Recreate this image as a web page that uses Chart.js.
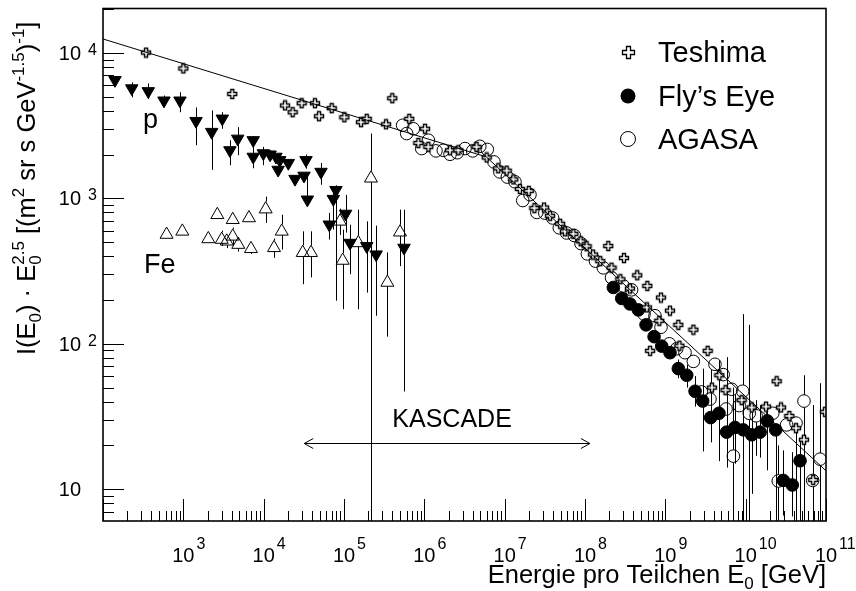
<!DOCTYPE html>
<html>
<head>
<meta charset="utf-8">
<script src="https://cdn.jsdelivr.net/npm/chart.js@4.4.1/dist/chart.umd.min.js"></script>
<style>
html,body{margin:0;padding:0;background:#ffffff;}
#box{width:856px;height:591px;}
canvas{display:block;}
</style>
</head>
<body>
<div id="box"><canvas id="chart" width="856" height="591"></canvas></div>
<script>
// ---------------- data ----------------
const teshimaE = [343,1000,4070,18450,22960,29720,43550,48870,70310,1.009e5,1.629e5,1.919e5,3.334e5,3.990e5,6.50e5,8.43e5,1.021e6,1.122e6,2.089e6,2.649e6,4.467e6,5.97e6,8.32e6,1.059e7,1.282e7,1.549e7,1.995e7,2.344e7,3.09e7,3.673e7,4.898e7,5.623e7,7.16e7,8.83e7,1.047e8,1.259e8,1.549e8,1.95e8,2.138e8,2.754e8,3.055e8,3.63e8,4.467e8,5.89e8,5.97e8,6.457e8,8.41e8,8.83e8,1.143e9,1.452e9,1.496e9,2.234e9,3.365e9,3.80e9,4.70e9,5.62e9,8.91e9,1.189e10,1.79e10,2.432e10,2.754e10,3.50e10,4.236e10,5.32e10,6.92e10,9.73e10];
const teshimaI = [10050,7820,5220,4350,3910,4510,4510,3670,4170,3610,3340,3520,3230,4880,3520,2400,3010,2260,2140,2140,2260,1910,1610,1550,1350,1160,1125,857,865,759,669,593,570,507,469,411,370,470,334,278,389,240,296,178,250,89.5,144,208,169,135,97,125,89.5,50,60.8,48,41,36.5,37,55.3,36.5,31.9,26.3,21.9,11.6,34.1];

const flysEyeE = [2.254e8,2.864e8,3.63e8,4.613e8,5.754e8,7.244e8,9.02e8,1.143e9,1.452e9,1.845e9,2.344e9,2.917e9,3.664e9,4.656e9,5.794e9,7.362e9,9.33e9,1.189e10,1.514e10,1.862e10,2.366e10,2.944e10,3.80e10,4.753e10];
const flysEyeI = [244,205,188,171,135,112,96.4,86.9,67.5,60.8,47.2,40.4,31.1,33.3,24.7,26.6,25.6,23.7,24.7,29.5,25.6,11.5,10.7,15.7];
const flysEyeHi = [null,null,null,null,null,null,null,null,78,72,60,67.5,66.4,77,81,45,40,35.6,37.9,35.6,27,18.5,18,22];
const flysEyeLo = [null,null,null,null,null,null,null,null,58,50,37,18.2,21,15.6,14.1,15,15,9.3,16.5,13.5,1,6.6,6.5,1];

const agasaE = [5.37e5,6.03e5,7.29e5,9.27e5,1.122e6,1.396e6,1.722e6,2.089e6,2.57e6,3.206e6,4.0e6,4.9e6,6.08e6,7.36e6,8.71e6,1.079e7,1.343e7,1.679e7,2.065e7,2.512e7,3.162e7,3.954e7,4.786e7,5.916e7,7.36e7,8.91e7,1.07e8,1.35e8,1.69e8,2.138e8,3.006e8,3.80e8,5.43e8,7.43e8,8.83e8,1.122e9,1.387e9,1.758e9,2.234e9,2.818e9,3.597e9,4.15e9,5.25e9,5.70e9,6.70e9,7.03e9,8.32e9,9.18e9,1.109e10,1.349e10,2.173e10,2.547e10,3.236e10,4.236e10,5.32e10,6.82e10,8.43e10];
const agasaI = [3180,2790,3010,2200,2510,2120,2140,2010,2060,2200,2120,2280,2170,1780,1520,1400,1300,966,1060,800,792,733,627,578,555,489,415,370,333,285,250,235,160,156,130,100,92.5,86.9,75.7,46.7,41.7,72.3,61.4,35.6,48.7,16.9,37.6,47.2,33.3,32,33.3,11.4,27.7,28.5,40.4,11.5,16.1];
const agasaHi = [null,null,null,null,null,null,null,null,null,null,null,null,null,null,null,null,null,null,null,null,null,null,null,null,null,null,null,null,null,null,null,null,null,null,null,null,null,null,null,null,null,null,null,null,null,50,null,160,135,41,null,20,null,31,60.8,37.9,53.6];
const agasaLo = [null,null,null,null,null,null,null,null,null,null,null,null,null,null,null,null,null,null,null,null,null,null,null,null,null,null,null,null,null,null,null,null,null,null,null,null,null,null,null,null,null,null,null,null,null,1,null,1,1,17,null,1,null,1,1,1,1];

const protonE = [141,228,366,574,908,1439,2254,3055,3802,4753,7413,7413,9908,12020,14220,15850,15140,20280,24550,31770,33650,34990,51760,79430,73620,104700,65610,118900,191900,251200,558500];
const protonI = [6500,5700,5450,4700,4700,3400,2860,3530,2140,2570,2510,1930,2040,2000,1930,1830,1570,1750,1360,1430,1830,980,1520,1140,990,783,660,494,469,411,457];
const protonHi = [null,6270,6170,5090,5360,4220,4020,3910,2510,3090,2670,2320,2260,2150,null,null,null,null,null,null,2000,1410,1750,1230,1143,1057,794,659,695,649,836];
const protonLo = [null,4950,4830,4240,3910,2320,1570,3010,1690,1980,2280,1610,1690,1850,null,null,null,null,null,null,1600,879,1240,198,610,582,521,301,225,156,47];

const ironE = [619,971,2046,2649,3006,3467,4121,4121,4831,6561,6950,10590,13460,16790,30620,38820,89130,96380,150700,216800,346700,497700];
const ironI = [564,593,526,771,521,507,713,548,481,733,450,843,457,593,423,423,695,374,494,1374,264,585];
const ironHi = [null,null,null,null,600,570,null,630,530,780,480,1028,530,771,593,593,850,610,836,2790,425,836];
const ironLo = [null,null,null,null,470,455,null,470,430,690,415,678,390,445,257,286,560,173,173,1,112,342];

const fitE = [1e2, 5.9e6, 1e11];
const fitI = [12470, 1928, 13.4];

const kascadeE = [3.2e4, 1.15e8];
const kascadeI = 20.7;

const xTickExponents = [3,4,5,6,7,8,9,10,11];
const yTickExponents = [1,2,3,4];
const legendLabels = ['Teshima', 'Fly\u2019s Eye', 'AGASA'];

// ---------------- drawing helpers ----------------
const FONT = '"Liberation Sans", Arial, Helvetica, sans-serif';
const pts = (xs, ys) => xs.map((x, i) => ({ x: x, y: ys[i] }));

function plusPath(ctx, cx, cy, L, a) {
  ctx.beginPath();
  ctx.moveTo(cx - a, cy - L); ctx.lineTo(cx + a, cy - L); ctx.lineTo(cx + a, cy - a);
  ctx.lineTo(cx + L, cy - a); ctx.lineTo(cx + L, cy + a); ctx.lineTo(cx + a, cy + a);
  ctx.lineTo(cx + a, cy + L); ctx.lineTo(cx - a, cy + L); ctx.lineTo(cx - a, cy + a);
  ctx.lineTo(cx - L, cy + a); ctx.lineTo(cx - L, cy - a); ctx.lineTo(cx - a, cy - a);
  ctx.closePath();
}
function makePlus(L, a) {
  const c = document.createElement('canvas');
  c.width = 12; c.height = 12;
  const g = c.getContext('2d');
  plusPath(g, 6, 6, L, a);
  g.fillStyle = '#fff'; g.fill();
  g.strokeStyle = '#000'; g.lineWidth = 1.4; g.stroke();
  return c;
}
const plusMarker = makePlus(4.5, 1.5);

function drawRuns(ctx, runs, x, y, align) {
  const ws = runs.map(r => { ctx.font = r.s + 'px ' + FONT; return ctx.measureText(r.t).width; });
  let total = 0, ps = 0, pw = 0;
  runs.forEach((r, i) => {
    if (r.stack) { total = ps + Math.max(pw, ws[i]); }
    else { ps = total; pw = ws[i]; total += ws[i]; }
  });
  let cx = align === 'right' ? x - total : (align === 'center' ? x - total / 2 : x);
  let start = cx, prevW = 0;
  ctx.textAlign = 'left'; ctx.textBaseline = 'alphabetic';
  runs.forEach((r, i) => {
    ctx.font = r.s + 'px ' + FONT;
    if (r.stack) { ctx.fillText(r.t, start, y + (r.dy || 0)); cx = start + Math.max(prevW, ws[i]); }
    else { start = cx; prevW = ws[i]; ctx.fillText(r.t, cx, y + (r.dy || 0)); cx += ws[i]; }
  });
}

// error bars drawn through the chart's own scales
const errorBarPlugin = {
  id: 'errorBars',
  beforeDatasetsDraw(chart) {
    const ctx = chart.ctx, ca = chart.chartArea;
    const xs = chart.scales.x, ys = chart.scales.y;
    ctx.save();
    ctx.beginPath(); ctx.rect(ca.left, ca.top, ca.right - ca.left, ca.bottom - ca.top); ctx.clip();
    ctx.strokeStyle = '#000'; ctx.lineWidth = 1;
    chart.data.datasets.forEach(ds => {
      if (!ds.errHi) return;
      ds.data.forEach((p, i) => {
        const hi = ds.errHi[i], lo = ds.errLo[i];
        if (hi == null) return;
        const px = Math.round(xs.getPixelForValue(p.x)) + 0.5;
        const yc = ys.getPixelForValue(p.y);
        const yh = ys.getPixelForValue(hi);
        const yl = Math.min(ys.getPixelForValue(lo), ca.bottom + 2);
        const gt = ds.gapTop || 0, gb = ds.gapBottom || 0;
        ctx.beginPath();
        if (yh < yc - gt) { ctx.moveTo(px, yh); ctx.lineTo(px, yc - gt); }
        if (yl > yc + gb) { ctx.moveTo(px, yc + gb); ctx.lineTo(px, yl); }
        ctx.stroke();
      });
    });
    ctx.restore();
  }
};

const decorPlugin = {
  id: 'decor',
  afterDraw(chart) {
    const ctx = chart.ctx, ca = chart.chartArea;
    const xs = chart.scales.x, ys = chart.scales.y;
    ctx.save();
    ctx.strokeStyle = '#000'; ctx.fillStyle = '#000';

    // ticks (inward)
    ctx.lineWidth = 1;
    ctx.beginPath();
    for (let e = 2; e <= 11; e++) {
      for (let m = 1; m <= 9; m++) {
        const v = m * Math.pow(10, e);
        if (v < xs.min * 0.999 || v > xs.max * 1.001) continue;
        const px = Math.round(xs.getPixelForValue(v)) + 0.5;
        const len = m === 1 ? 22 : 10;
        ctx.moveTo(px, ca.bottom); ctx.lineTo(px, ca.bottom - len);
      }
    }
    for (let e = 0; e <= 4; e++) {
      for (let m = 1; m <= 9; m++) {
        const v = m * Math.pow(10, e);
        if (v < ys.min * 0.999 || v > ys.max * 1.001) continue;
        const py = Math.round(ys.getPixelForValue(v)) + 0.5;
        const len = m === 1 ? 21 : 11;
        ctx.moveTo(ca.left, py); ctx.lineTo(ca.left + len, py);
      }
    }
    ctx.stroke();

    // frame
    ctx.lineWidth = 1.6;
    ctx.strokeRect(ca.left, ca.top, ca.right - ca.left, ca.bottom - ca.top);

    // x tick labels
    xTickExponents.forEach(e => {
      const px = xs.getPixelForValue(Math.pow(10, e));
      ctx.font = '20px ' + FONT;
      const w = ctx.measureText('10').width;
      ctx.textAlign = 'center'; ctx.textBaseline = 'alphabetic';
      ctx.fillText('10', px, 562);
      ctx.font = '16px ' + FONT; ctx.textAlign = 'left';
      ctx.fillText(String(e), px + w / 2 + 2, 549);
    });
    // y tick labels
    yTickExponents.forEach(e => {
      const py = ys.getPixelForValue(Math.pow(10, e));
      ctx.font = '20px ' + FONT;
      ctx.textAlign = 'right'; ctx.textBaseline = 'alphabetic';
      ctx.fillText('10', 81, py + 7);
      if (e !== 1) {
        ctx.font = '16px ' + FONT; ctx.textAlign = 'left';
        ctx.fillText(String(e), 88, py + 2);
      }
    });

    // axis titles
    drawRuns(ctx, [
      { t: 'Energie pro Teilchen E', s: 25.5 },
      { t: '0', s: 17, dy: 6 },
      { t: ' [GeV]', s: 25.5 }
    ], 826, 583, 'right');

    ctx.save();
    ctx.translate(35, 355);
    ctx.rotate(-Math.PI / 2);
    drawRuns(ctx, [
      { t: 'I(E', s: 25.5 }, { t: '0', s: 17, dy: 6 }, { t: ') \u00B7 E', s: 25.5 },
      { t: '0', s: 17, dy: 6 }, { t: '2.5', s: 17, dy: -11, stack: true },
      { t: ' [(m', s: 25.5 }, { t: '2', s: 17, dy: -11 }, { t: ' sr s GeV', s: 25.5 },
      { t: '-1.5', s: 17, dy: -11 }, { t: ')', s: 25.5 }, { t: '-1', s: 17, dy: -11 }, { t: ']', s: 25.5 }
    ], 0, 0, 'left');
    ctx.restore();

    // KASCADE arrow
    const ax1 = xs.getPixelForValue(kascadeE[0]), ax2 = xs.getPixelForValue(kascadeE[1]);
    const ay = Math.round(ys.getPixelForValue(kascadeI)) + 0.5;
    ctx.lineWidth = 1;
    ctx.beginPath();
    ctx.moveTo(ax1, ay); ctx.lineTo(ax2, ay);
    ctx.moveTo(ax1 + 9, ay - 5); ctx.lineTo(ax1, ay); ctx.lineTo(ax1 + 9, ay + 5);
    ctx.moveTo(ax2 - 9, ay - 5); ctx.lineTo(ax2, ay); ctx.lineTo(ax2 - 9, ay + 5);
    ctx.stroke();
    ctx.font = '25px ' + FONT; ctx.textAlign = 'center'; ctx.textBaseline = 'alphabetic';
    ctx.fillText('KASCADE', (ax1 + ax2) / 2 + 5, ay - 17);

    // element labels
    ctx.font = '27px ' + FONT; ctx.textAlign = 'left';
    ctx.fillText('p', 143, 128);
    ctx.fillText('Fe', 144, 273);

    // legend
    const lx = 628, rows = [52, 96, 139];
    plusPath(ctx, lx + 0.5, rows[0] + 0.5, 6, 2);
    ctx.fillStyle = '#fff'; ctx.fill(); ctx.lineWidth = 1.3; ctx.stroke();
    ctx.fillStyle = '#000';
    ctx.beginPath(); ctx.arc(lx, rows[1], 7.5, 0, Math.PI * 2); ctx.fill();
    ctx.lineWidth = 1;
    ctx.beginPath(); ctx.arc(lx, rows[2], 7.5, 0, Math.PI * 2); ctx.stroke();
    ctx.font = '29px ' + FONT; ctx.textAlign = 'left'; ctx.textBaseline = 'alphabetic';
    legendLabels.forEach((t, i) => ctx.fillText(t, 658, rows[i] + 10));

    ctx.restore();
  }
};

new Chart(document.getElementById('chart'), {
  type: 'scatter',
  data: {
    datasets: [
      { label: 'Fit', type: 'line', data: pts(fitE, fitI), borderColor: '#000', borderWidth: 1,
        pointRadius: 0, fill: false, showLine: true, tension: 0 },
      { label: 'Teshima', data: pts(teshimaE, teshimaI), pointStyle: plusMarker, pointRadius: 4.5,
        pointBackgroundColor: '#fff', pointBorderColor: '#000' },
      { label: 'Fly\u2019s Eye', data: pts(flysEyeE, flysEyeI), pointStyle: 'circle', pointRadius: 6.3,
        pointBackgroundColor: '#000', pointBorderColor: '#000', pointBorderWidth: 1,
        errHi: flysEyeHi, errLo: flysEyeLo },
      { label: 'AGASA', data: pts(agasaE, agasaI), pointStyle: 'circle', pointRadius: 6.3,
        pointBackgroundColor: 'rgba(0,0,0,0)', pointBorderColor: '#000', pointBorderWidth: 1,
        errHi: agasaHi, errLo: agasaLo, gapTop: 6.3, gapBottom: 6.3 },
      { label: 'p', data: pts(protonE, protonI), pointStyle: 'triangle', pointRotation: 180, pointRadius: 7.2,
        pointBackgroundColor: '#000', pointBorderColor: '#000', pointBorderWidth: 1,
        errHi: protonHi, errLo: protonLo },
      { label: 'Fe', data: pts(ironE, ironI), pointStyle: 'triangle', pointRadius: 7.5,
        pointBackgroundColor: 'rgba(0,0,0,0)', pointBorderColor: '#000', pointBorderWidth: 1,
        errHi: ironHi, errLo: ironLo, gapTop: 7.5, gapBottom: 3.8 }
    ]
  },
  options: {
    responsive: false,
    animation: false,
    devicePixelRatio: 1,
    events: [],
    layout: { padding: { left: 103, top: 7, right: 30, bottom: 70 } },
    plugins: { legend: { display: false }, tooltip: { enabled: false } },
    scales: {
      x: { type: 'logarithmic', min: 100, max: 1e11, bounds: 'data', display: false },
      y: { type: 'logarithmic', min: 6.05, max: 20200, bounds: 'data', display: false }
    }
  },
  plugins: [errorBarPlugin, decorPlugin]
});
</script>
</body>
</html>
